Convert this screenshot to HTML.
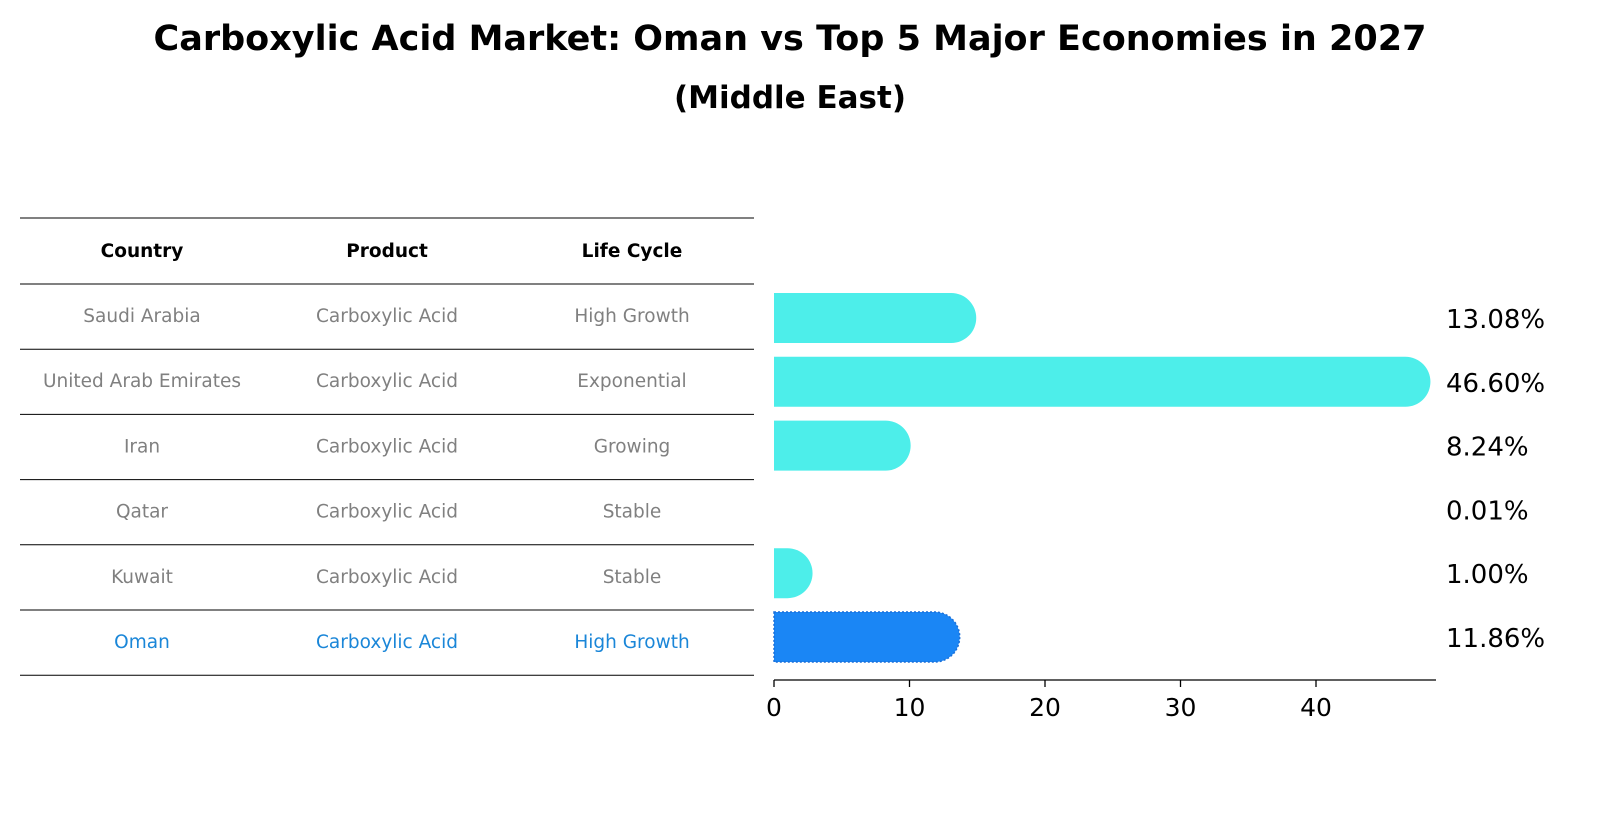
<!DOCTYPE html>
<html><head><meta charset="utf-8"><style>
body{margin:0;background:#fff;font-family:"Liberation Sans","DejaVu Sans",sans-serif;}
#wrap{position:relative;width:1604px;height:823px;overflow:hidden;}
</style></head><body>
<div id="wrap">
<svg id="svg" width="1604" height="823">
<text x="790" y="50" text-anchor="middle" font-size="35" font-weight="bold" font-family="DejaVu Sans, sans-serif">Carboxylic Acid Market: Oman vs Top 5 Major Economies in 2027</text>
<text x="790" y="108" text-anchor="middle" font-size="31" font-weight="bold" font-family="DejaVu Sans, sans-serif">(Middle East)</text>
<g id="table"></g>
<g id="bars"></g>
</svg>
</div>
<script>
const countries=["Saudi Arabia","United Arab Emirates","Iran","Qatar","Kuwait","Oman"];
const products=["Carboxylic Acid","Carboxylic Acid","Carboxylic Acid","Carboxylic Acid","Carboxylic Acid","Carboxylic Acid"];
const lifeCycles=["High Growth","Exponential","Growing","Stable","Stable","High Growth"];
const shares=[13.08,46.60,8.24,0.01,1.00,11.86];
const shareLabels=["13.08%","46.60%","8.24%","0.01%","1.00%","11.86%"];
const xTicks=[0,10,20,30,40];
const NS="http://www.w3.org/2000/svg";
function mk(tag,attrs,parent){const e=document.createElementNS(NS,tag);for(const k in attrs)e.setAttribute(k,attrs[k]);parent.appendChild(e);return e;}
const tbl=document.getElementById('table');
const bars=document.getElementById('bars');
const rowY=i=>284+i*65.2;
const colX=[142,387,632];
for(let i=0;i<=7;i++){
  const y=i==0?218:rowY(i-1);
  const l=mk('line',{x1:20,x2:754,y1:y,y2:y,stroke:'#000','stroke-width':1},tbl);
  
  
}
["Country","Product","Life Cycle"].forEach((h,j)=>{
  const t=mk('text',{x:colX[j],y:257,'text-anchor':'middle','font-size':18.5,'font-weight':'bold','font-family':'DejaVu Sans, sans-serif'},tbl);
  t.textContent=h;
  
  
});
countries.forEach((c,i)=>{
  const isOman=c==="Oman";
  [c,products[i],lifeCycles[i]].forEach((v,j)=>{
    const t=mk('text',{x:colX[j],y:rowY(i)+38,'text-anchor':'middle','font-size':18.5,fill:isOman?'#1a86d8':'#808080','font-family':'DejaVu Sans, sans-serif'},tbl);
    t.textContent=v;
    
    
  });
});
const x0=774, pxPer=13.55;
const xs=v=>x0+v*pxPer;
const barCy=i=>318+i*63.8;
const bh=50;
const ax=mk('line',{x1:x0,x2:1436,y1:680,y2:680,stroke:'#000','stroke-width':1.3},bars);


xTicks.forEach(t=>{
  const tl=mk('line',{x1:xs(t),x2:xs(t),y1:680,y2:687,stroke:'#000','stroke-width':1.3},bars);
  
  
  const tx=mk('text',{x:xs(t),y:716,'text-anchor':'middle','font-size':25,'font-family':'DejaVu Sans, sans-serif'},bars);
  tx.textContent=t;
  
  
});
shares.forEach((v,i)=>{
  const isOman=countries[i]==="Oman";
  const cy=barCy(i), r=bh/2;
  if(v>0.05){
    const xe=xs(v);
    const d=`M${x0},${cy-r} L${xe},${cy-r} A${r},${r} 0 0 1 ${xe},${cy+r} L${x0},${cy+r} Z`;
    const p=mk('path',{d:d,fill:isOman?'#1a86f5':'#4deeea'},bars);
    if(isOman){p.setAttribute('stroke','#1a6fd8');p.setAttribute('stroke-dasharray','2,2');p.setAttribute('stroke-width','1.5');}
    
    
  }
  const lt=mk('text',{x:1446,y:cy+10,'font-size':26,'font-family':'DejaVu Sans, sans-serif'},bars);
  lt.textContent=shareLabels[i];
  
  
});
</script>
</body></html>
